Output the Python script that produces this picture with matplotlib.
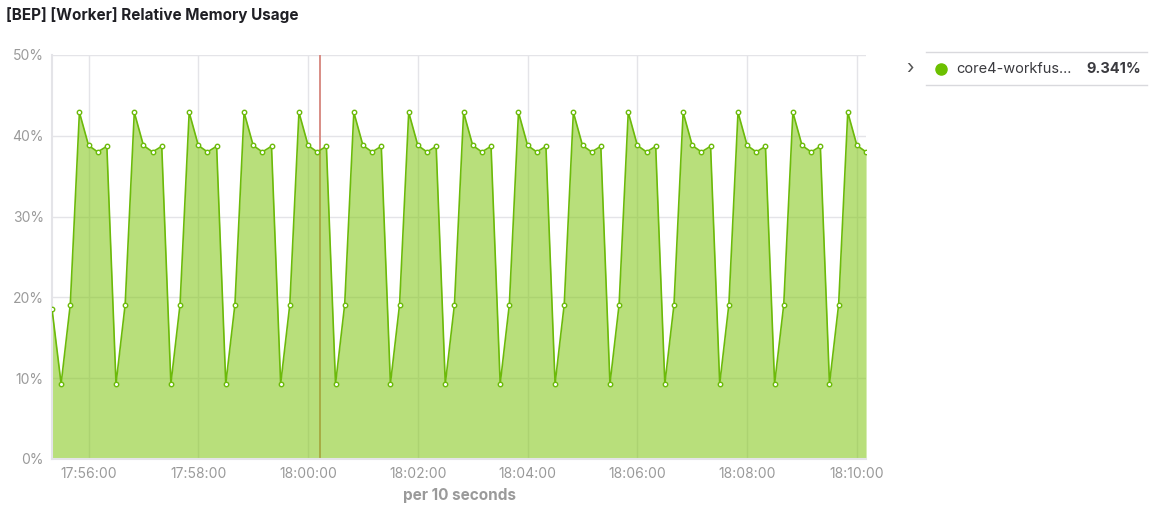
import numpy as np
import matplotlib.pyplot as plt
import matplotlib.dates as mdates
from matplotlib.lines import Line2D

plt.rcParams['font.family'] = ['Inter', 'DejaVu Sans']

# data: memory usage (%), one sample every 10 seconds from 17:55:20
start = np.datetime64('2024-01-01T17:55:20')
usage = [
    18.6, 9.3, 19.1, 42.9, 38.8, 38.0, 38.7,
    9.3, 19.1, 42.9, 38.8, 38.0, 38.7,
    9.3, 19.1, 42.9, 38.8, 38.0, 38.7,
    9.3, 19.1, 42.9, 38.8, 38.0, 38.7,
    9.3, 19.1, 42.9, 38.8, 38.0, 38.7,
    9.3, 19.1, 42.9, 38.8, 38.0, 38.7,
    9.3, 19.1, 42.9, 38.8, 38.0, 38.7,
    9.3, 19.1, 42.9, 38.8, 38.0, 38.7,
    9.3, 19.1, 42.9, 38.8, 38.0, 38.7,
    9.3, 19.1, 42.9, 38.8, 38.0, 38.7,
    9.3, 19.1, 42.9, 38.8, 38.0, 38.7,
    9.3, 19.1, 42.9, 38.8, 38.0, 38.7,
    9.3, 19.1, 42.9, 38.8, 38.0, 38.7,
    9.3, 19.1, 42.9, 38.8, 38.0, 38.7,
    9.3, 19.1, 42.9, 38.8, 38.0,
]
times = start + np.arange(len(usage)) * np.timedelta64(10, 's')
marker_time = np.datetime64('2024-01-01T18:00:13')
yticks = [0, 10, 20, 30, 40, 50]
series_name = 'core4-workfus...'
series_value = '9.341%'

line_c = '#6cba0a'
grid_c = '#e4e4e8'
tick_c = '#9a9a9a'

fig = plt.figure(figsize=(11.68, 5.22), dpi=100)
ax = fig.add_axes([0.0445, 0.1207, 0.697, 0.774])

t = times.astype('datetime64[ms]').astype(object)
ax.fill_between(t, usage, 0, color='#7ec50f', alpha=0.55, lw=0, zorder=2)
ax.plot(t, usage, color=line_c, lw=1.2, marker='o', ms=3.2, mfc='white',
        mec=line_c, mew=1.0, zorder=3)
# annotation marker, sits under the fill
ax.axvline(marker_time.astype('datetime64[ms]').astype(object), color='#d6857c', lw=1.3, zorder=1.5)

ax.set_xlim(t[0], t[-1])
ax.set_ylim(0, 50)
ax.set_yticks(yticks)
ax.set_yticklabels([f'{v}%' for v in yticks])
ax.xaxis.set_major_locator(mdates.MinuteLocator(byminute=range(0, 60, 2)))
ax.xaxis.set_major_formatter(mdates.DateFormatter('%H:%M:%S'))
ax.grid(True, color=grid_c, lw=1, zorder=1)
ax.set_axisbelow(True)
for s in ['top', 'right']:
    ax.spines[s].set_visible(False)
for s in ['left', 'bottom']:
    ax.spines[s].set_color(grid_c)
    ax.spines[s].set_linewidth(1.5)
ax.tick_params(length=0, colors=tick_c, labelsize=10, pad=6)
ax.set_xlabel('per 10 seconds', color=tick_c, fontsize=11, fontweight='bold', labelpad=5)

fig.text(0.005, 0.972, '[BEP] [Worker] Relative Memory Usage', fontsize=11,
         fontweight='bold', color='#1f1f24', va='center', ha='left')

# legend box on the right
fig.add_artist(Line2D([926 / 1168, 1147 / 1168], [1 - 52 / 522, 1 - 52 / 522], color='#d9d9dd', lw=1))
fig.add_artist(Line2D([926 / 1168, 1147 / 1168], [1 - 85 / 522, 1 - 85 / 522], color='#d9d9dd', lw=1))
fig.text(910 / 1168, 1 - 69 / 522, '›', fontsize=14, color='#555555', ha='center', va='center')
fig.add_artist(Line2D([941 / 1168], [1 - 69 / 522], marker='o', ms=8, color='#6cc000', lw=0))
fig.text(956 / 1168, 1 - 69 / 522, series_name, fontsize=10.5, color='#3a3a3f', ha='left', va='center')
fig.text(1141 / 1168, 1 - 69 / 522, series_value, fontsize=10.5, fontweight='bold',
         color='#3a3a3f', ha='right', va='center')

fig.savefig('out.png', dpi=100)
